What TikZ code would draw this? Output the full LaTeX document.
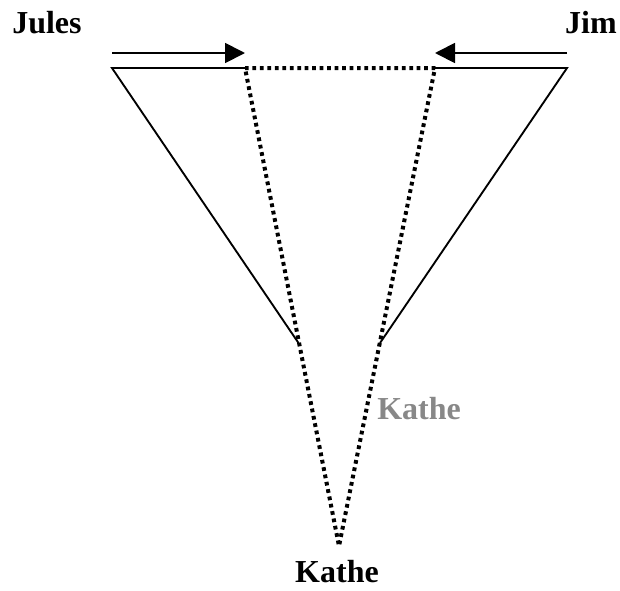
\documentclass[tikz,border=0pt]{standalone}
\usepackage{fontspec}
\setmainfont{Liberation Serif}
\usetikzlibrary{arrows.meta}
\definecolor{softgray}{HTML}{888888}
\tikzset{
  personlabel/.style={font=\fontsize{24}{28}\selectfont\bfseries, inner sep=0pt},
  solidline/.style={line width=1.4pt},
  dotline/.style={line width=3pt, line join=bevel, dash pattern=on 2.8pt off 2.8pt},
  push/.style={line width=1.4pt, -{Triangle[length=15pt,width=15pt]}}
}
\begin{document}
\begin{tikzpicture}[x=0.75pt,y=-0.75pt]
\useasboundingbox (0,0) rectangle (620,590);

% labels
\node[personlabel, anchor=base west] (jules) at (12,33) {Jules};
\node[personlabel, anchor=base east] (jim) at (617,33) {Jim};
\node[personlabel, anchor=base] (kathe) at (337,582) {Kathe};
\node[personlabel, anchor=base west, text=softgray] (kathe2) at (377,419) {Kathe};

% key points
\coordinate (tl) at (112,68);
\coordinate (tr) at (567,68);
\coordinate (dl) at (245,68);
\coordinate (dr) at (435,68);
\coordinate (ml) at (298.5,343);
\coordinate (mr) at (380,343);
\coordinate (tip) at (339,546);
\coordinate (al) at (112,53);
\coordinate (alt) at (245,53);
\coordinate (ar) at (567,53);
\coordinate (art) at (435,53);

% arrows
\draw[push] (al) -- (alt);
\draw[push] (ar) -- (art);

% solid outline
\draw[solidline] (ml) -- (tl) -- (dl);
\draw[solidline] (mr) -- (tr) -- (dr);

% dotted triangle
\draw[dotline] (dl) -- (dr) -- (tip) -- cycle;
\end{tikzpicture}
\end{document}
